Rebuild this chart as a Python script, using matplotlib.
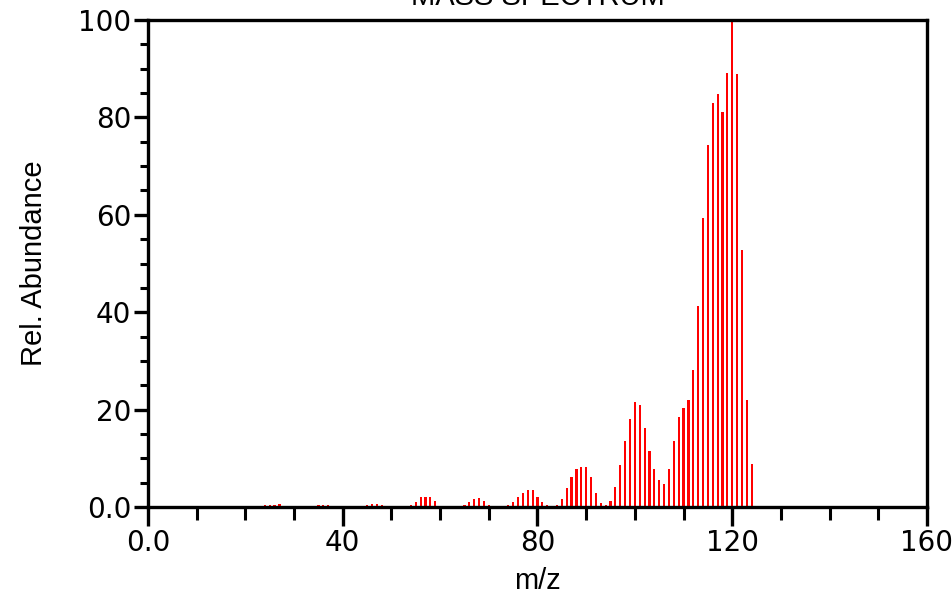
import matplotlib
matplotlib.use("Agg")
import matplotlib.pyplot as plt
from matplotlib.ticker import MultipleLocator

mz = [23, 24, 25, 26, 27, 28,
      33, 35, 36, 37, 38, 39,
      43, 44, 45, 46, 47, 48, 49,
      51, 52, 53, 54, 55, 56, 57, 58, 59,
      64, 65, 66, 67, 68, 69, 70, 71,
      73, 74, 75, 76, 77, 78, 79, 80, 81, 82,
      84, 85, 86, 87, 88, 89, 90, 91, 92, 93, 94, 95,
      96, 97, 98, 99, 100, 101, 102, 103, 104, 105, 106,
      107, 108, 109, 110, 111, 112, 113, 114, 115, 116, 117,
      118, 119, 120, 121, 122, 123, 124]
abundance = [0.15, 0.35, 0.35, 0.35, 0.55, 0.15,
             0.15, 0.35, 0.35, 0.35, 0.15, 0.15,
             0.15, 0.15, 0.35, 0.55, 0.55, 0.35, 0.15,
             0.15, 0.3, 0.3, 0.4, 1.0, 2.0, 2.0, 2.0, 1.2,
             0.1, 0.5, 1.0, 1.6, 1.8, 1.2, 0.5, 0.1,
             0.1, 0.4, 1.0, 2.0, 2.8, 3.4, 3.4, 2.0, 1.0, 0.5,
             0.4, 1.7, 3.8, 6.2, 7.8, 8.2, 8.2, 6.2, 2.9, 0.8, 0.4, 1.2,
             4.1, 8.6, 13.6, 18.1, 21.6, 20.9, 16.2, 11.5, 7.8, 5.5, 4.7,
             7.8, 13.6, 18.5, 20.3, 22.0, 28.1, 41.3, 59.3, 74.3, 83.0, 84.8,
             81.1, 89.1, 100.0, 88.9, 52.8, 22.0, 8.8]

xticks = [0, 40, 80, 120, 160]
xtick_labels = ["0.0", "40", "80", "120", "160"]
yticks = [0, 20, 40, 60, 80, 100]
ytick_labels = ["0.0", "20", "40", "60", "80", "100"]

fig = plt.figure(figsize=(9.53, 5.95), dpi=100)
ax = fig.add_axes([148/953, 88/595, (927-148)/953, (507-20)/595])

ax.bar(mz, abundance, width=0.45, color="#ff0000", linewidth=0)

ax.set_xlim(0, 160)
ax.set_ylim(0, 100)
ax.set_xticks(xticks)
ax.set_xticklabels(xtick_labels)
ax.set_yticks(yticks)
ax.set_yticklabels(ytick_labels)
ax.xaxis.set_minor_locator(MultipleLocator(10))
ax.yaxis.set_minor_locator(MultipleLocator(5))

for s in ax.spines.values():
    s.set_linewidth(2.4)
    s.set_color("black")

ax.tick_params(axis="both", which="major", direction="out", width=2.4,
               labelsize=20, pad=2)
ax.tick_params(axis="x", which="major", length=14)
ax.tick_params(axis="x", which="minor", direction="out", length=9, width=2.2)
ax.tick_params(axis="y", which="major", length=10)
ax.tick_params(axis="y", which="minor", direction="out", length=6, width=2.2)
for lab in ax.get_xticklabels() + ax.get_yticklabels():
    lab.set_family("DejaVu Sans")

ax.set_xlabel("m/z", fontsize=21, family="Liberation Sans", labelpad=7)
ax.set_ylabel("Rel. Abundance", fontsize=21, family="Liberation Sans", labelpad=22)

fig.text(537.5/953, 1 - 5/595, "MASS SPECTRUM", ha="center", va="baseline",
         fontsize=21, family="Liberation Sans")

fig.savefig("out.png", dpi=100)
